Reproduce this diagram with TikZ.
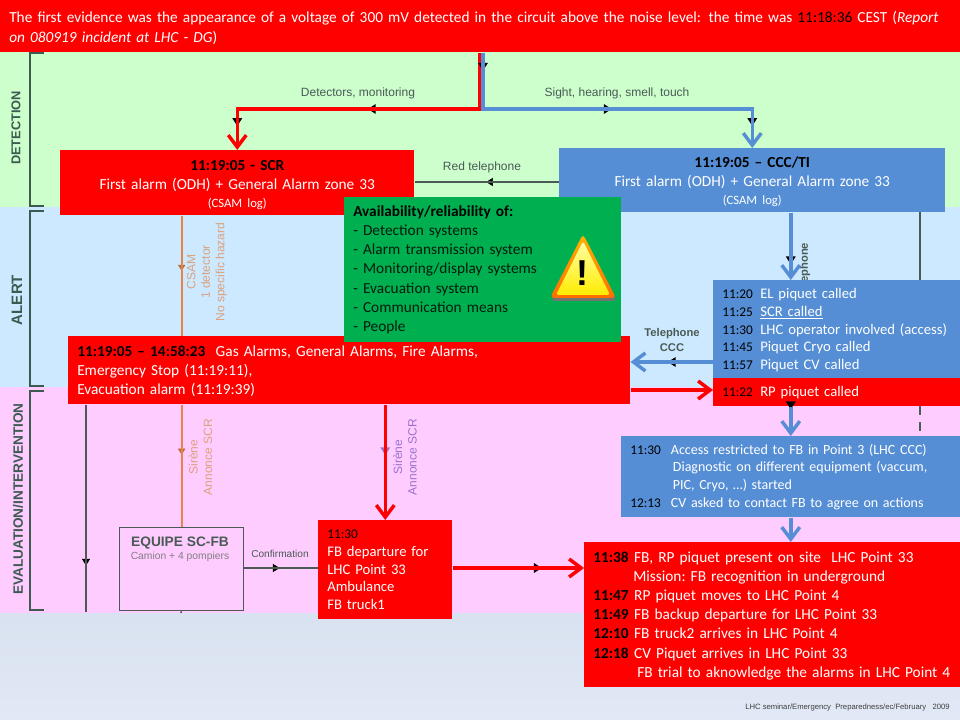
\documentclass[tikz,border=0pt]{standalone}
\usepackage{fontspec}
\setmainfont{Carlito}
\newfontfamily\labelfont{Liberation Sans}
\usetikzlibrary{arrows.meta,decorations.markings}

\definecolor{bandgreen}{HTML}{CCFFCC}
\definecolor{bandblue}{HTML}{CCE9FF}
\definecolor{bandpink}{HTML}{FFCCFF}
\definecolor{bandlowtop}{HTML}{D9E2F0}
\definecolor{bandlowend}{HTML}{E1E8F6}
\definecolor{boxred}{HTML}{FF0000}
\definecolor{boxblue}{HTML}{558ED5}
\definecolor{boxgreen}{HTML}{00B050}
\definecolor{bracketgray}{HTML}{3C5A50}
\definecolor{linegray}{HTML}{4A5A55}
\definecolor{sirenorange}{HTML}{E8844A}
\definecolor{labelorange}{HTML}{DBA27C}
\definecolor{labelpurple}{HTML}{9A72CC}

\newcommand{\tmark}[1]{\textcolor{black}{#1}}
\newcommand{\tslot}[2]{\makebox[#1][l]{\textcolor{black}{\fontsize{10}{10}\selectfont #2}}}
\newcommand{\tbold}[1]{\makebox[30.7pt][l]{\textcolor{black}{\textbf{#1}}}}
\newcommand{\toprule}[1]{\rule{0pt}{#1}}

\tikzset{
  box/.style n args={4}{fill=#1,text=white,anchor=north west,inner xsep=6.75pt,inner ysep=0pt,
    minimum width=#2*0.75pt,minimum height=#3*0.75pt,text width=#2*0.75pt-13.5pt,align=#4},
  bigtext/.style={font=\fontsize{11.5}{14.4}\selectfont},
  smalltext/.style={font=\fontsize{11}{13.25}\selectfont},
  accesstext/.style={font=\fontsize{10.5}{13.25}\selectfont},
  midtip/.style 2 args={preaction={decorate,decoration={markings,
    mark=at position #1 with {\arrow{Triangle[length=6pt,width=7pt,color=#2,fill=#2]}}}}},
  redflow/.style={draw=boxred,line width=2.6pt,-{Straight Barb[length=9pt,width=13.5pt,line width=2.6pt]}},
  blueflow/.style={draw=boxblue,line width=2.6pt,-{Straight Barb[length=9pt,width=13.5pt,line width=2.6pt]}},
  graylink/.style={draw=linegray,line width=1pt},
  sirenlink/.style={draw=sirenorange,line width=1.4pt},
  bracket/.style={draw=bracketgray,line width=1.2pt},
  phase/.style={font=\labelfont\bfseries\fontsize{#1}{11}\selectfont,text=bracketgray,rotate=90,inner sep=0pt},
  flowlabel/.style={font=\labelfont\fontsize{9}{10.9}\selectfont,align=center,inner sep=0pt},
  boldlabel/.style={font=\labelfont\bfseries\fontsize{8.4}{11.25}\selectfont},
}

\begin{document}
\begin{tikzpicture}[x=0.75pt,y=0.75pt,yscale=-1,xscale=1]
\useasboundingbox (0,0) rectangle (960,720);

% Bands
\fill [bandgreen] (0,52) rectangle (960,207);
\fill [bandblue] (0,207) rectangle (960,387);
\fill [bandpink] (0,387) rectangle (960,613);
\shade [top color=bandlowtop,bottom color=bandlowend] (0,613) rectangle (960,720);

% Brackets
\draw [bracket] (44,53) -- (30,53) -- (30,206) -- (44,206);
\draw [bracket] (44,211) -- (30,211) -- (30,386) -- (44,386);
\draw [bracket] (44,391) -- (30,391) -- (30,610) -- (44,610);

% Phase names
\draw (16,128) node (detection) [phase=9.6] {DETECTION};
\draw (17,300) node (alert) [phase=11.3] {ALERT};
\draw (18,499) node (evaluation) [phase=10.2] {EVALUATION/INTERVENTION};

% Text Node, its lower end goes under the box
\draw (805,270.5) node (telside) [flowlabel,text=linegray,rotate=90,boldlabel] {Telephone};

% Boxes
\draw (0,0) node (topbar) [box={boxred}{960}{52}{left},bigtext]
  {\toprule{11pt}The first evidence was the appearance of a voltage of 300 mV detected in the circuit above the noise level: the time was \tmark{11:18:36} CEST (\textit{Report}\\\textit{on 080919 incident at LHC - DG})};
\draw (60,150) node (scr) [box={boxred}{354}{65}{center},bigtext]
  {\toprule{11pt}\tmark{\textbf{11:19:05 - SCR}}\\First alarm (ODH) + General Alarm zone 33\\[-1pt]{\fontsize{9.5}{10}\selectfont(CSAM log)}};
\draw (559,148) node (ccc) [box={boxblue}{386}{64}{center},bigtext]
  {\toprule{10pt}\tmark{\textbf{11:19:05 -- CCC/TI}}\\First alarm (ODH) + General Alarm zone 33\\[-1pt]{\fontsize{9.5}{10}\selectfont(CSAM log)}};
\draw (68,336) node (alarms) [box={boxred}{562}{68}{left},bigtext]
  {\toprule{9pt}\tmark{\textbf{11:19:05 -- 14:58:23}}\hspace{4pt} Gas Alarms, General Alarms, Fire Alarms,\\Emergency Stop (11:19:11),\\Evacuation alarm (11:19:39)};
\draw (713,280) node (piquet) [box={boxblue}{247}{98}{left},smalltext]
  {\toprule{9pt}\tslot{28.5pt}{11:20}EL piquet called\\\tslot{28.5pt}{11:25}\underline{SCR called}\\\tslot{28.5pt}{11:30}LHC operator involved (access)\\\tslot{28.5pt}{11:45}Piquet Cryo called\\\tslot{28.5pt}{11:57}Piquet CV called};
\draw (713,378) node (rp) [box={boxred}{247}{28}{left},smalltext]
  {\tslot{28.5pt}{11:22}RP piquet called};
\draw (621,436) node (access) [box={boxblue}{339}{81}{left},accesstext]
  {\tslot{30.5pt}{11:30}Access restricted to FB in Point 3 (LHC CCC)\\\hspace*{32pt}Diagnostic on different equipment (vaccum,\\\hspace*{32pt}PIC, Cryo, \dots) started\\\tslot{30.5pt}{12:13}CV asked to contact FB to agree on actions};
\draw (318,520) node (fb) [box={boxred}{134}{99}{left},smalltext]
  {\tslot{28.5pt}{11:30}\\FB departure for\\LHC Point 33\\Ambulance\\FB truck1};
\draw (584,542) node (onsite) [box={boxred}{376}{145}{left},bigtext]
  {\toprule{9.5pt}\tbold{11:38}FB, RP piquet present on site\ \ LHC Point 33\\\hspace*{30pt}Mission:\ FB recognition in underground\\\tbold{11:47}RP piquet moves to LHC Point 4\\\tbold{11:49}FB backup departure for LHC Point 33\\\tbold{12:10}FB truck2 arrives in LHC Point 4\\\tbold{12:18}CV Piquet arrives in LHC Point 33\\\hspace*{33pt}FB trial to aknowledge the alarms in LHC Point 4};
\draw (119,527) node (equipe) [anchor=north west,draw=linegray,line width=1pt,minimum width=93pt,minimum height=62.25pt,inner sep=0pt] {};
\draw (344,197) node (avail) [box={boxgreen}{277}{145}{left},bigtext,text=black!85!boxgreen]
  {\tmark{\textbf{Availability/reliability of:}}\\- Detection systems\\- Alarm transmission system\\- Monitoring/display systems\\- Evacuation system\\- Communication means\\- People};

% Free ends
\coordinate (split) at (480,109);
\coordinate (splitb) at (483,109);
\coordinate (leftdrop) at (86,612);
\coordinate (sidetop) at (920,212);
\coordinate (sidemid) at (920,406);
\coordinate (sideend) at (920,436);

% Straight Lines
\draw [graylink,midtip={0.51}{black}] (ccc.west |- 0,182) -- (scr.east |- 0,182);
\draw [graylink,midtip={0.78}{black}] (alarms.south -| leftdrop) -- (leftdrop);
\draw [sirenlink,midtip={0.47}{sirenorange!80!black}] (scr.south -| equipe.north) -- (alarms.north -| equipe.north);
\draw [sirenlink,midtip={0.42}{sirenorange!80!black}] (alarms.south -| equipe.north) -- (equipe.north);
\draw [graylink] (equipe.south) -- (180.6,613);
\draw [graylink,midtip={0.49}{black}] (equipe.east |- 0,568) -- (fb.west |- 0,568);
\draw [graylink] (sidetop) -- (piquet.north -| sidetop);
\draw [graylink,dashed,dash pattern=on 7pt off 5pt] (sidemid) -- (sideend);

% Arrows of the alarm chain
\draw [redflow,midtip={0.496}{black},midtip={0.93}{black}] (topbar.south -| split) -- (split) -| (scr.north);
\draw [blueflow,midtip={0.05}{black},midtip={0.508}{black},midtip={0.94}{black}] (topbar.south -| splitb) -- (splitb) -| (ccc.north);
\draw [blueflow,midtip={0.77}{black}] (ccc.south -| access.north) -- (piquet.north -| access.north);
\draw [blueflow,midtip={0.55}{black}] (piquet.west |- 0,362) -- (alarms.east |- 0,362);
\draw [redflow] (alarms.east |- 0,390) -- (rp.west |- 0,390);
\draw [blueflow,midtip={0.1}{black}] (rp.south -| access.north) -- (access.north);
\draw [blueflow] (access.south) -- (onsite.north -| access.south);
\draw [redflow,midtip={0.44}{labelpurple}] (alarms.south -| fb.north) -- (fb.north);
\draw [redflow,midtip={0.68}{black}] (fb.east |- 0,568) -- (onsite.west |- 0,568);

% Text Node
\draw (358,93) node (detectors) [flowlabel,text=linegray] {Detectors, monitoring};
\draw (617,93) node (sight) [flowlabel,text=linegray] {Sight, hearing, smell, touch};
\draw (482,167) node (redtel) [flowlabel,text=linegray] {Red telephone};
\draw (207,272) node (csam) [flowlabel,text=labelorange,rotate=90] {CSAM\\1 detector\\No specific hazard};
\draw (200.5,457) node (sirenleft) [flowlabel,text=labelorange,rotate=90] {Sir\`ene\\Annonce SCR};
\draw (405,457) node (sirenright) [flowlabel,text=labelpurple,rotate=90] {Sir\`ene\\Annonce SCR};
\draw (672,340) node (telccc) [flowlabel,text=linegray,boldlabel] {Telephone\\CCC};
\draw (280,554) node (confirm) [flowlabel,text=linegray,font=\labelfont\fontsize{7.6}{10}\selectfont] {Confirmation};
\draw (180,543) node (equipename) [flowlabel,text=linegray,font=\labelfont\bfseries\fontsize{10.3}{11}\selectfont] {EQUIPE SC-FB};
\draw (180,557) node (equipecrew) [flowlabel,text=gray,font=\labelfont\fontsize{7.75}{9}\selectfont] {Camion + 4 pompiers};
\draw (950,708) node (footer) [anchor=east,inner sep=0pt,text=black!75,font=\labelfont\fontsize{5.76}{7}\selectfont] {LHC seminar/Emergency\ \ Preparedness/ec/February\ \ \ 2009};

% Warning sign
\fill [black!55,rounded corners=3pt] (583,237) -- (617,301) -- (551,301) -- cycle;
\shade [top color=orange!60!yellow,bottom color=orange!85!red,rounded corners=3pt] (583,234) -- (616,298) -- (550,298) -- cycle;
\shade [top color=yellow!35!white,bottom color=yellow!85!orange,rounded corners=2pt] (583,241) -- (610,295) -- (556,295) -- cycle;
\draw (582.5,273) node (warning) [inner sep=0pt,font=\labelfont\bfseries\fontsize{27}{27}\selectfont,text=black] {!};
\end{tikzpicture}
\end{document}
